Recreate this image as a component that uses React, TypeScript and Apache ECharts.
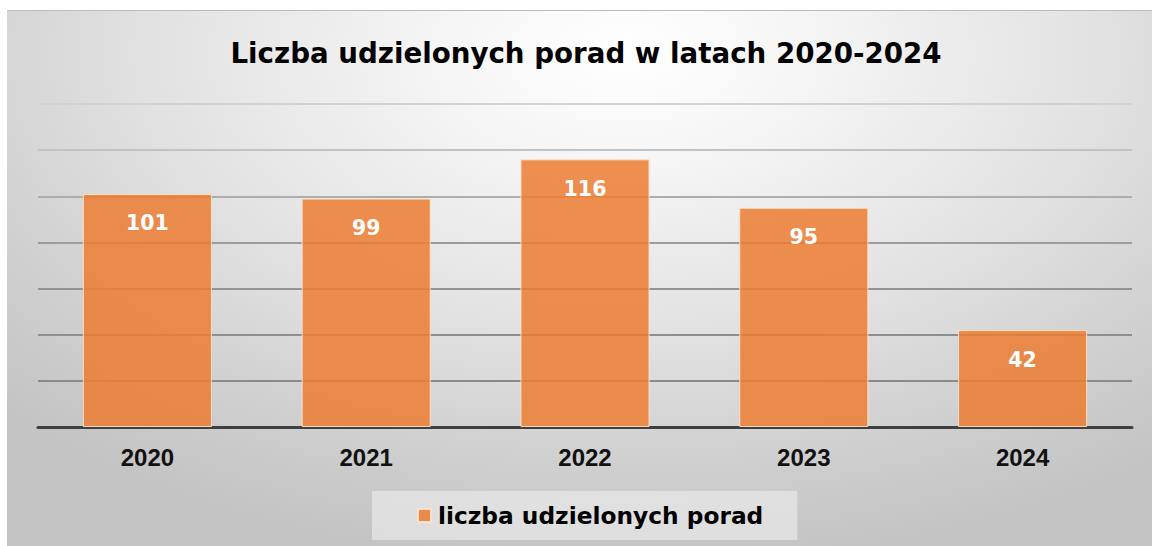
import React, { useEffect, useRef } from "react";
import * as echarts from "echarts";

const categories = ["2020", "2021", "2022", "2023", "2024"];
const values = [101, 99, 116, 95, 42];
const seriesName = "liczba udzielonych porad";
const titleText = "Liczba udzielonych porad w latach 2020-2024";
const gridColors = ["#8a8a8a", "#8a8a8a", "#8e8e8e", "#939393", "#9c9c9c", "#adadad", "#c2c2c2", "#d2d2d2"];

export default function App() {
  const ref = useRef<HTMLDivElement>(null);
  useEffect(() => {
    if (!ref.current) return;
    const chart = echarts.init(ref.current, null, { renderer: "svg" });
    chart.setOption({
      animation: false,
      backgroundColor: "transparent",
      title: {
        text: titleText,
        left: 574,
        textAlign: "center",
        top: 23,
        textStyle: { fontFamily: "DejaVu Sans", fontWeight: "bold", fontSize: 27.7, color: "#000" },
      },
      legend: {
        data: [seriesName],
        left: 365,
        top: 480,
        padding: [13, 34, 13, 45],
        backgroundColor: "rgba(238,238,238,0.6)",
        icon: "rect",
        itemWidth: 13,
        itemHeight: 13,
        textStyle: { fontFamily: "DejaVu Sans", fontWeight: "bold", fontSize: 23.3, color: "#000", padding: [0, 0, 0, 2] },
      },
      grid: { left: 31, right: 20, top: 93, bottom: 119, containLabel: false },
      xAxis: {
        type: "category",
        data: categories,
        axisLine: { lineStyle: { color: "#3f3f3f", width: 3 } },
        axisTick: { show: false },
        axisLabel: { margin: 18, fontFamily: "Liberation Sans", fontWeight: "bold", fontSize: 24, color: "#111" },
      },
      yAxis: {
        type: "value",
        min: 0,
        max: 140,
        interval: 20,
        axisLabel: { show: false },
        axisLine: { show: false },
        axisTick: { show: false },
        splitLine: { lineStyle: { color: gridColors, width: 2 } },
      },
      series: [
        {
          name: seriesName,
          type: "bar",
          data: values,
          barWidth: "59%",
          itemStyle: { color: "rgba(237,125,49,0.85)", borderColor: "rgba(255,228,205,0.9)", borderWidth: 1 },
          label: {
            show: true,
            position: "insideTop",
            distance: 19,
            color: "#fff",
            fontFamily: "DejaVu Sans",
            fontWeight: "bold",
            fontSize: 20.5,
          },
        },
      ],
    });
    return () => chart.dispose();
  }, []);
  return (
    <div style={{ position: "fixed", left: 0, top: 0, width: 1152, height: 546, background: "#fff" }}>
      <div
        ref={ref}
        style={{
          position: "absolute",
          left: 7,
          top: 10,
          width: 1145,
          height: 536,
          borderTop: "1px solid #bdbdbd",
          boxSizing: "border-box",
          background:
            "radial-gradient(ellipse 75% 95% at 54% 8%, #ffffff 0%, #f6f6f6 20%, #e2e2e2 55%, #d0d0d0 80%, #c4c4c4 100%)",
        }}
      />
    </div>
  );
}
